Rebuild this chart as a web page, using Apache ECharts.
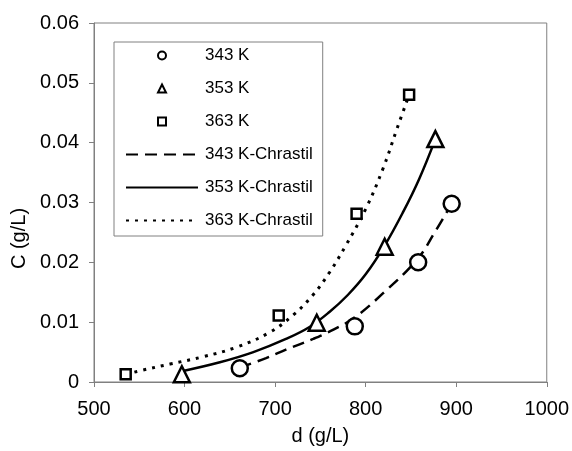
<!DOCTYPE html>
<html>
<head>
<meta charset="utf-8">
<script src="https://cdn.jsdelivr.net/npm/echarts@6/dist/echarts.min.js"></script>
<style>
  html, body { margin: 0; padding: 0; background: #fff; }
  #chart { width: 572px; height: 451px; }
</style>
</head>
<body>
<div id="chart"></div>
<script>
"use strict";

// measured points [d (g/L), C (g/L)]
var pts343 = [[661, 0.0023], [788, 0.0093], [858, 0.0200], [895, 0.0298]];
var pts353 = [[597, 0.0013], [746, 0.0099], [821, 0.0226], [877, 0.0406]];
var pts363 = [[535, 0.0013], [704, 0.0111], [790, 0.0281], [848, 0.0480]];

// Chrastil curves
var fit343 = [[661, 0.0024], [690, 0.0040], [712, 0.0054], [742, 0.0072], [765, 0.0088], [788, 0.0108], [819, 0.0148], [857, 0.0205], [877, 0.0252], [895, 0.0298]];
var fit353 = [[597, 0.0018], [639, 0.0033], [676, 0.0050], [712, 0.0072], [738, 0.0092], [760, 0.0117], [780, 0.0145], [800, 0.0180], [821, 0.0228], [841, 0.0283], [859, 0.0339], [877, 0.0406]];
var fit363 = [[535, 0.0013], [560, 0.0022], [584, 0.0030], [620, 0.0042], [657, 0.0058], [694, 0.0083], [720, 0.0112], [741, 0.0144], [760, 0.0183], [778, 0.0228], [800, 0.0289], [819, 0.0356], [835, 0.0425], [848, 0.0480]];

var legendNames = ['343 K', '353 K', '363 K', '343 K-Chrastil', '353 K-Chrastil', '363 K-Chrastil'];
// square-aspect icons so the legend does not stretch them
var legendIcons = [null, 'path://M4,0L8,8L0,8Z', 'path://M0,0L7,0L7,7L0,7Z', null, null, null];

var font = '"Liberation Sans", Arial, sans-serif';
var chart = echarts.init(document.getElementById('chart'));

function markers(name, data, symbol, size) {
    return {
        name: name,
        type: 'scatter',
        data: data,
        symbol: symbol,
        symbolSize: size,
        itemStyle: { color: '#fff', borderColor: '#000', borderWidth: 2.5, opacity: 1 },
        z: 5
    };
}

function curve(name, data, type, width) {
    return {
        name: name,
        type: 'line',
        data: data,
        smooth: 0.4,
        symbol: 'none',
        itemStyle: { color: 'transparent', borderColor: 'transparent' },
        lineStyle: { color: '#000', width: width, type: type },
        z: 3
    };
}

var legendData = legendNames.map(function (n, i) {
    return legendIcons[i] ? { name: n, icon: legendIcons[i] } : { name: n };
});

chart.setOption({
    animation: false,
    backgroundColor: '#fff',
    textStyle: { fontFamily: font, color: '#000' },
    grid: {
        left: 94, top: 23, right: 24, bottom: 68,
        show: true, borderColor: '#808080', borderWidth: 1
    },
    legend: {
        data: legendData,
        orient: 'vertical',
        left: 114, top: 42,
        padding: [5, 10, 7, 11],
        itemWidth: 72, itemHeight: 8, itemGap: 16,
        symbolKeepAspect: true,
        borderColor: '#808080', borderWidth: 1,
        textStyle: { fontFamily: font, fontSize: 17, color: '#000', padding: [0, 0, 0, 2] }
    },
    xAxis: {
        type: 'value',
        min: 500, max: 1000, interval: 100,
        name: 'd (g/L)', nameLocation: 'middle', nameGap: 44,
        nameTextStyle: { fontFamily: font, fontSize: 20, color: '#000' },
        axisLine: { show: true, lineStyle: { color: '#808080' } },
        axisTick: { show: true, length: 5, lineStyle: { color: '#808080' } },
        axisLabel: {
            fontFamily: font, fontSize: 20, color: '#000', margin: 17,
            formatter: function (v) { return String(v); }
        },
        splitLine: { show: false }
    },
    yAxis: {
        type: 'value',
        min: 0, max: 0.06, interval: 0.01,
        name: 'C (g/L)', nameLocation: 'middle', nameGap: 65,
        nameTextStyle: { fontFamily: font, fontSize: 20, color: '#000', padding: [0, 72, 0, 0] },
        axisLine: { show: true, lineStyle: { color: '#808080' } },
        axisTick: { show: true, length: 5, lineStyle: { color: '#808080' } },
        axisLabel: {
            fontFamily: font, fontSize: 20, color: '#000', margin: 15,
            formatter: function (v) { return v === 0 ? '0' : v.toFixed(2); }
        },
        splitLine: { show: false }
    },
    series: [
        markers('343 K', pts343, 'circle', 16),
        markers('353 K', pts353, 'triangle', 16),
        markers('363 K', pts363, 'rect', 10),
        curve('343 K-Chrastil', fit343, [12, 7], 2.5),
        curve('353 K-Chrastil', fit353, 'solid', 2.5),
        curve('363 K-Chrastil', fit363, [3, 6], 3)
    ]
});
</script>
</body>
</html>
